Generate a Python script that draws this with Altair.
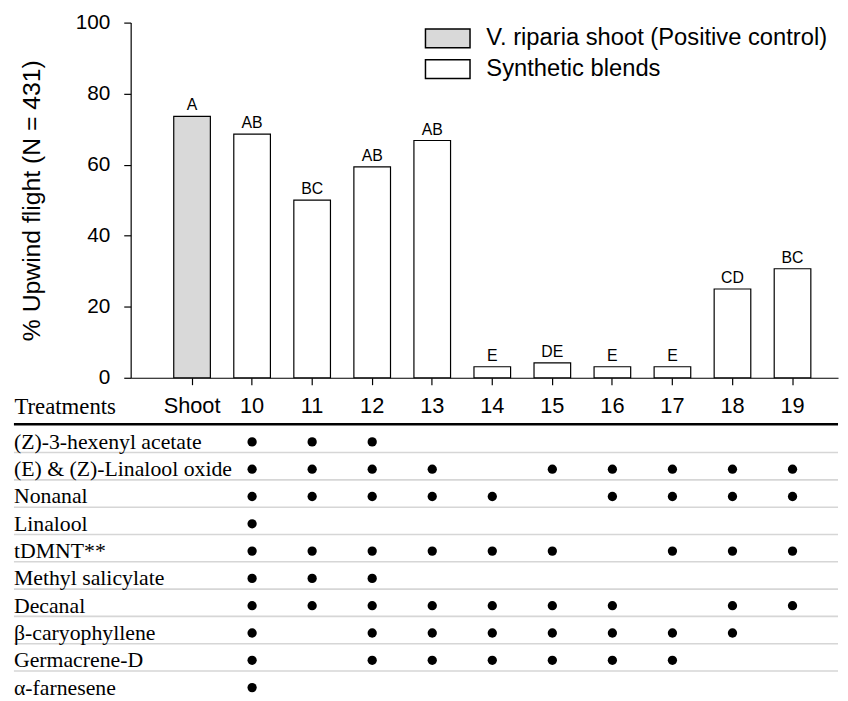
import altair as alt
import pandas as pd

treatments = ["Shoot", "10", "11", "12", "13", "14", "15", "16", "17", "18", "19"]
upwind = [73.6, 68.6, 50.0, 59.4, 66.8, 3.1, 4.2, 3.1, 3.1, 25.0, 30.7]
letters = ["A", "AB", "BC", "AB", "AB", "E", "DE", "E", "E", "CD", "BC"]
group_names = ["V. riparia shoot (Positive control)", "Synthetic blends"]
groups = [group_names[0]] + [group_names[1]] * 10

compounds = [
    "(Z)-3-hexenyl acetate",
    "(E) & (Z)-Linalool oxide",
    "Nonanal",
    "Linalool",
    "tDMNT**",
    "Methyl salicylate",
    "Decanal",
    "β-caryophyllene",
    "Germacrene-D",
    "α-farnesene",
]
blends = [
    ["10", "11", "12"],
    ["10", "11", "12", "13", "15", "16", "17", "18", "19"],
    ["10", "11", "12", "13", "14", "16", "17", "18", "19"],
    ["10"],
    ["10", "11", "12", "13", "14", "15", "17", "18", "19"],
    ["10", "11", "12"],
    ["10", "11", "12", "13", "14", "15", "16", "18", "19"],
    ["10", "12", "13", "14", "15", "16", "17", "18"],
    ["10", "12", "13", "14", "15", "16", "17"],
    ["10"],
]

SANS = "Liberation Sans"
SERIF = "Liberation Serif"

bars_df = pd.DataFrame({"treatment": treatments, "upwind": upwind,
                        "letter": letters, "group": groups})
rows_df = pd.DataFrame({"compound": compounds})
dots_df = pd.DataFrame([{"compound": c, "treatment": t}
                        for c, ts in zip(compounds, blends) for t in ts])

xscale = alt.Scale(type="band", domain=treatments, paddingInner=0.39, paddingOuter=0.585,
                   align=0.613, round=False)

x_top = alt.X("treatment:N", scale=xscale, axis=alt.Axis(
    title="Treatments", titleX=-118, titleY=29, titleAlign="left",
    titleBaseline="middle", titleFont=SERIF, titleFontSize=23,
    titleFontWeight="normal", titleColor="black",
    labelAngle=0, labelFont=SANS, labelFontSize=22, labelColor="black",
    labelPadding=11, tickSize=7, tickColor="black", tickWidth=1.2,
    domainColor="black", domainWidth=1.2, grid=False))

y_top = alt.Y("upwind:Q", scale=alt.Scale(domain=[0, 100], nice=False), axis=alt.Axis(
    values=[0, 20, 40, 60, 80, 100], title="% Upwind flight (N = 431)",
    titleFont=SANS, titleFontSize=25, titleFontWeight="normal", titleColor="black",
    titlePadding=31, labelFont=SANS, labelFontSize=21, labelColor="black",
    labelPadding=14, tickSize=7, tickColor="black", tickWidth=1.2,
    domainColor="black", domainWidth=1.2, grid=False))

base = alt.Chart(bars_df)
bars = base.mark_bar(stroke="black", strokeWidth=1.2).encode(
    x=x_top, y=y_top,
    fill=alt.Fill("group:N",
                  scale=alt.Scale(domain=group_names, range=["#d9d9d9", "#ffffff"]),
                  legend=alt.Legend(title=None, orient="none", legendX=308.5, legendY=4,
                                    symbolType="M-2.37,-1H2.37V1H-2.37Z", symbolSize=361,
                                    symbolStrokeColor="black", symbolStrokeWidth=1.5,
                                    labelFont=SANS, labelFontSize=24, labelColor="black",
                                    labelOffset=27, rowPadding=5, labelLimit=600,
                                    padding=0)))
bar_labels = base.mark_text(baseline="bottom", dy=-3, fontSize=16, font=SANS,
                            color="black").encode(x=x_top, y=y_top, text="letter:N")
top = alt.layer(bars, bar_labels).properties(width=715, height=359)

yrow = alt.Scale(type="band", domain=compounds, paddingInner=0, paddingOuter=0)

thick = alt.Chart(pd.DataFrame({"k": [0]})).mark_rule(color="black", strokeWidth=2.5).encode(
    y=alt.value(-4), x=alt.value(-118), x2=alt.value("width"))
lines = alt.Chart(rows_df.iloc[:-1]).mark_rule(color="#d6d6d6", strokeWidth=1.6, yOffset=-3).encode(
    y=alt.Y("compound:N", scale=yrow, axis=None, bandPosition=1),
    x=alt.value(-118), x2=alt.value("width"))
row_labels = alt.Chart(rows_df).mark_text(align="left", baseline="middle", font=SERIF,
                                          fontSize=22, color="black").encode(
    y=alt.Y("compound:N", scale=yrow, axis=None), x=alt.value(-118), text="compound:N")
dots = alt.Chart(dots_df).mark_point(filled=True, shape="circle", size=88,
                                     color="black", opacity=1).encode(
    x=alt.X("treatment:N", scale=xscale, axis=None),
    y=alt.Y("compound:N", scale=yrow, axis=None))
bottom = alt.layer(thick, lines, row_labels, dots).properties(width=715, height=276)

chart = alt.vconcat(top, bottom, spacing=4).properties(
    padding={"left": 4, "top": 0, "right": 0, "bottom": 0}
).configure_view(strokeWidth=0)

chart.save("out.html", embed_options={"renderer": "svg", "actions": False})
